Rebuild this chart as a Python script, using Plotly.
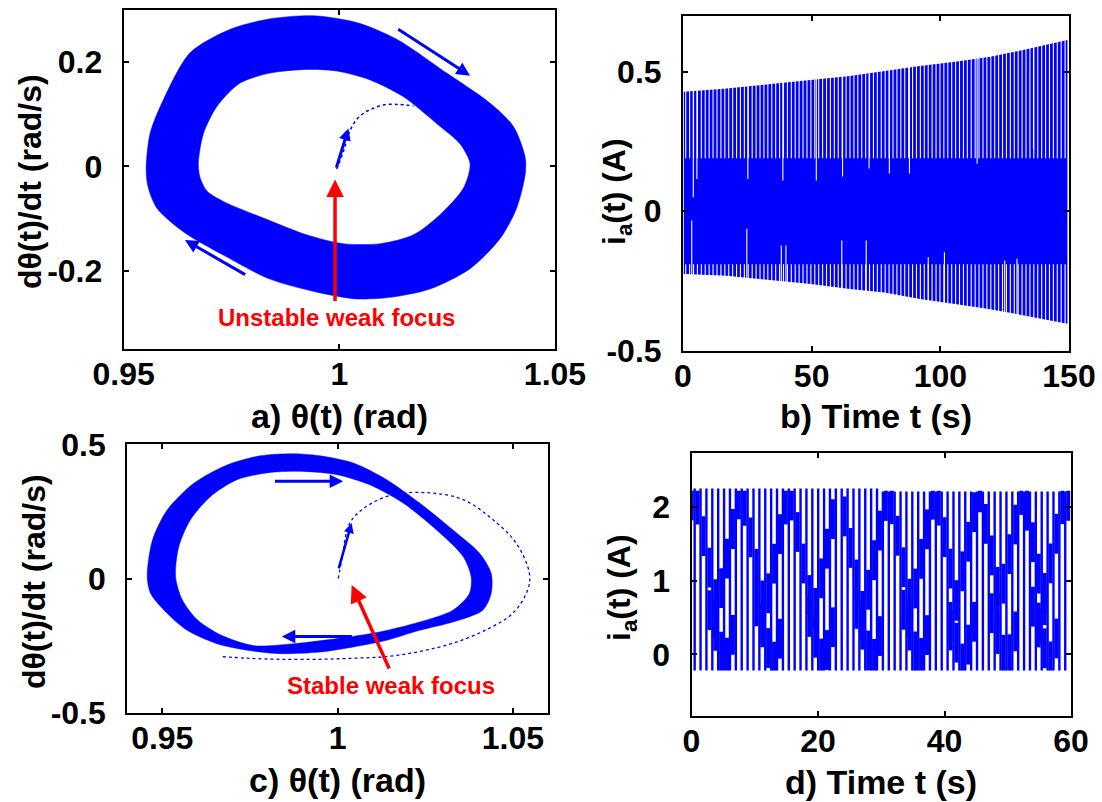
import numpy as np
import plotly.graph_objects as go

BLUE = "#0000FF"
RED = "#FF0000"

# ---------------- panel a : phase portrait, unstable weak focus ----------------
a_outer_x = [0.9552, 0.9561, 0.9592, 0.9654, 0.9747, 0.9839, 0.9940, 1.0040, 1.0133, 1.0249, 1.0350, 1.0404, 1.0431,
             1.0431, 1.0411, 1.0373, 1.0303, 1.0210, 1.0118, 1.0040, 0.9948, 0.9839, 0.9731, 0.9638, 0.9577, 0.9557]
a_outer_y = [-0.008, 0.063, 0.128, 0.218, 0.263, 0.283, 0.289, 0.276, 0.244, 0.179, 0.121, 0.076, 0.017,
             -0.015, -0.080, -0.138, -0.196, -0.235, -0.251, -0.254, -0.241, -0.216, -0.170, -0.125, -0.080, -0.041]
a_inner_x = [0.9673, 0.9685, 0.9716, 0.9770, 0.9839, 0.9924, 0.9994, 1.0071, 1.0148, 1.0226, 1.0280, 1.0303,
             1.0288, 1.0234, 1.0172, 1.0095, 1.0009, 0.9924, 0.9824, 0.9731, 0.9693, 0.9677]
a_inner_y = [0.005, 0.063, 0.115, 0.160, 0.179, 0.186, 0.183, 0.166, 0.134, 0.082, 0.043, 0.005,
             -0.041, -0.092, -0.131, -0.148, -0.148, -0.131, -0.099, -0.067, -0.047, -0.021]
a_trans_x = [0.9994, 1.0010, 1.0025, 1.0040, 1.0056, 1.0080, 1.0102, 1.0135, 1.0172]
a_trans_y = [-0.005, 0.030, 0.069, 0.090, 0.102, 0.112, 0.118, 0.119, 0.116]

# ---------------- panel b : armature current, growing oscillation ----------------
b_env_t = [0.3, 17, 36, 49.7, 64.8, 78.4, 92, 105.7, 119.4, 133, 149.4]
b_upper = [0.428, 0.440, 0.458, 0.470, 0.485, 0.503, 0.521, 0.536, 0.554, 0.580, 0.614]
b_lower = [-0.225, -0.231, -0.249, -0.261, -0.279, -0.291, -0.315, -0.333, -0.351, -0.375, -0.403]
b_period = 1.52
b_gap_top_t = [4.0, 5.4, 25.2, 38.8, 51.8, 62.0, 72.3, 80.2, 88.0, 114.3, 136.2]
b_gap_top_y = [0.05, 0.116, 0.116, 0.11, 0.11, 0.125, 0.153, 0.135, 0.135, 0.17, 0.225]
b_gap_bot_t = [3.4, 24.8, 38.2, 40.0, 61.7, 71.2, 95.3, 101.6, 125.0, 129.8]
b_gap_bot_y = [-0.033, -0.063, -0.123, -0.123, -0.105, -0.105, -0.165, -0.147, -0.177, -0.17]

# ---------------- panel c : phase portrait, stable weak focus ----------------
c_outer_x = [0.9457, 0.9472, 0.9514, 0.9590, 0.9685, 0.9779, 0.9874, 0.9950, 1.0045, 1.0140, 1.0234, 1.0329, 1.0405,
             1.0438, 1.0438, 1.0414, 1.0329, 1.0234, 1.0140, 1.0045, 0.9950, 0.9836, 0.9742, 0.9656, 0.9571, 0.9505, 0.9467]
c_outer_y = [0.006, 0.143, 0.255, 0.355, 0.423, 0.457, 0.465, 0.457, 0.430, 0.368, 0.281, 0.181, 0.094,
             0.019, -0.056, -0.118, -0.162, -0.193, -0.230, -0.255, -0.274, -0.280, -0.267, -0.243, -0.193, -0.118, -0.056]
c_inner_x = [0.9538, 0.9547, 0.9580, 0.9637, 0.9713, 0.9808, 0.9903, 0.9998, 1.0092, 1.0187, 1.0282, 1.0358,
             1.0381, 1.0376, 1.0329, 1.0234, 1.0120, 0.9998, 0.9874, 0.9760, 0.9666, 0.9600, 0.9557]
c_inner_y = [0.006, 0.118, 0.218, 0.305, 0.368, 0.395, 0.399, 0.387, 0.349, 0.281, 0.181, 0.082,
             0.006, -0.056, -0.118, -0.162, -0.199, -0.224, -0.243, -0.250, -0.210, -0.154, -0.079]
c_trans_x = [1.0002, 1.0012, 1.0035, 1.0083, 1.0158, 1.0263, 1.0358, 1.0443, 1.0509, 1.0547, 1.0542, 1.0500,
             1.0424, 1.0329, 1.0234, 1.0140, 1.0045, 0.9950, 0.9836, 0.9742, 0.9666]
c_trans_y = [0.0, 0.07, 0.207, 0.269, 0.312, 0.319, 0.294, 0.219, 0.132, 0.019, -0.043, -0.129,
             -0.191, -0.241, -0.272, -0.291, -0.297, -0.301, -0.301, -0.297, -0.291]

# ---------------- panel d : armature current, stable oscillation ----------------
d_first_t = 0.5
d_period = 0.93
d_top_early = 2.25
d_top_late = 2.21
d_bottom = -0.22
d_peak_t = [0.3, 7.7, 15.3, 23.2, 31.0, 38.4, 45.3, 52.2, 59.0]
# stroke shapes around each slow peak: (start offset, start level, end offset, end level)
d_strokes = [(-4.4, 0.30, 0.0, 2.20), (0.3, 2.20, 4.0, 0.50),
             (-5.2, 0.70, -2.4, -0.15), (-2.4, -0.15, -0.6, 0.45)]

fig = go.Figure()


def closed(xs, ys):
    return list(xs) + [xs[0]], list(ys) + [ys[0]]


def band(ox, oy, ix, iy, xa, ya):
    x1, y1 = closed(ox, oy)
    fig.add_trace(go.Scatter(x=x1, y=y1, fill="toself", fillcolor=BLUE, mode="lines",
                             line=dict(width=0.5, color=BLUE, shape="spline", smoothing=0.8), xaxis=xa, yaxis=ya))
    x2, y2 = closed(ix, iy)
    fig.add_trace(go.Scatter(x=x2, y=y2, fill="toself", fillcolor="white", mode="lines",
                             line=dict(width=0.5, color=BLUE, shape="spline", smoothing=0.8), xaxis=xa, yaxis=ya))


# panel a
band(a_outer_x, a_outer_y, a_inner_x, a_inner_y, "x", "y")
fig.add_trace(go.Scatter(x=a_trans_x, y=a_trans_y, mode="lines",
                         line=dict(color=BLUE, width=1.5, dash="dot", shape="spline"), xaxis="x", yaxis="y"))

# panel b
fig.add_trace(go.Scatter(x=b_env_t + b_env_t[::-1], y=b_upper + b_lower[::-1], fill="toself", fillcolor=BLUE,
                         mode="lines", line=dict(width=0, color=BLUE), xaxis="x2", yaxis="y2"))
gx, gy = [], []
t = 1.05
while t < 149.4:
    gx += [t, t, None, t, t, None]
    gy += [0.19, 0.75, None, -0.55, -0.19, None]
    t += b_period
for tt, yy in zip(b_gap_top_t, b_gap_top_y):
    gx += [tt, tt, None]
    gy += [yy, 0.75, None]
for tt, yy in zip(b_gap_bot_t, b_gap_bot_y):
    gx += [tt, tt, None]
    gy += [-0.55, yy, None]
fig.add_trace(go.Scatter(x=gx, y=gy, mode="lines", line=dict(color="white", width=1.1), xaxis="x2", yaxis="y2"))

# panel c
band(c_outer_x, c_outer_y, c_inner_x, c_inner_y, "x3", "y3")
fig.add_trace(go.Scatter(x=c_trans_x, y=c_trans_y, mode="lines",
                         line=dict(color=BLUE, width=1.3, dash="dot", shape="spline"), xaxis="x3", yaxis="y3"))

# panel d: one vertical stroke per fast cycle
bars = []
t = d_first_t
while t < 60:
    bars.append(t)
    t += d_period
bx, by = [], []
for t in bars:
    top = d_top_early if t < 30 else d_top_late
    bx += [t, t, None]
    by += [d_bottom, top, None]
fig.add_trace(go.Scatter(x=bx, y=by, mode="lines", line=dict(color=BLUE, width=2.4), xaxis="x4", yaxis="y4"))
# slow pattern: the gaps between the fast strokes are filled along the drifting levels
fx, fy = [], []
gaps = [b + d_period / 2 for b in bars] + [d_first_t - d_period / 2]
for p in d_peak_t:
    for (o0, y0, o1, y1) in d_strokes:
        t0, t1 = p + o0, p + o1
        for g in gaps:
            if t0 <= g <= t1 and 0 < g < 60:
                lev = y0 + (g - t0) * (y1 - y0) / (t1 - t0)
                fx += [g, g, None]
                fy += [max(lev - 0.27, d_bottom), min(lev + 0.27, 2.22), None]
fig.add_trace(go.Scatter(x=fx, y=fy, mode="lines", line=dict(color=BLUE, width=4), xaxis="x4", yaxis="y4"))

W, H = 1102, 802


def px(x):
    return x / W


def py(y):
    return 1 - y / H


tickfont = dict(family="Liberation Sans", size=32, color="black", weight="bold")
common = dict(showline=True, mirror="ticks", linecolor="black", linewidth=2, ticks="inside", ticklen=5,
              tickwidth=1.5, tickcolor="black", showgrid=False, zeroline=False, tickfont=tickfont,
              automargin=False)
xc = dict(common, ticklabelstandoff=-4)
yc = dict(common, ticklabelstandoff=13)

fig.update_layout(
    width=W, height=H, margin=dict(l=0, r=0, t=0, b=0, pad=0, autoexpand=False),
    paper_bgcolor="white", plot_bgcolor="white", showlegend=False,
    xaxis=dict(domain=[px(123.7), px(555)], range=[0.95, 1.05], tickvals=[0.95, 1, 1.05],
               ticktext=["0.95", "1", "1.05"], anchor="y", **xc),
    yaxis=dict(domain=[py(349), py(10)], range=[-0.35, 0.3], tickvals=[-0.2, 0, 0.2],
               ticktext=["-0.2", "0", "0.2"], anchor="x", **yc),
    xaxis2=dict(domain=[px(683), px(1069)], range=[0, 150], tickvals=[0, 50, 100, 150],
                ticktext=["0", "50", "100", "150"], anchor="y2", **xc),
    yaxis2=dict(domain=[py(350.7), py(16)], range=[-0.5, 0.7], tickvals=[-0.5, 0, 0.5],
                ticktext=["-0.5", "0", "0.5"], anchor="x2", **yc),
    xaxis3=dict(domain=[px(127.2), px(548)], range=[0.94, 1.06], tickvals=[0.95, 1, 1.05],
                ticktext=["0.95", "1", "1.05"], anchor="y3", **xc),
    yaxis3=dict(domain=[py(712.7), py(444.3)], range=[-0.5, 0.5], tickvals=[-0.5, 0, 0.5],
                ticktext=["-0.5", "0", "0.5"], anchor="x3", **yc),
    xaxis4=dict(domain=[px(691.5), px(1071)], range=[0, 60], tickvals=[0, 20, 40, 60],
                ticktext=["0", "20", "40", "60"], anchor="y4", **xc),
    yaxis4=dict(domain=[py(716), py(452.7)], range=[-0.837, 2.737], tickvals=[0, 1, 2],
                ticktext=["0", "1", "2"], anchor="x4", **yc),
)

tfont = dict(family="Liberation Sans", size=34, color="black", weight="bold")
yfont = dict(family="Liberation Sans", size=32, color="black", weight="bold")
ann = []
for text, x, y in [("a) θ(t) (rad)", 339, 416), ("b) Time t (s)", 876, 416),
                   ("c) θ(t) (rad)", 337.6, 780), ("d) Time t (s)", 881, 782)]:
    ann.append(dict(text=text, x=px(x), y=py(y), xref="paper", yref="paper", showarrow=False,
                    xanchor="center", yanchor="middle", font=tfont))
for text, x, y in [("dθ(t)/dt (rad/s)", 30, 182), ("i<sub>a</sub>(t) (A)", 617, 192),
                   ("dθ(t)/dt (rad/s)", 34, 582), ("i<sub>a</sub>(t) (A)", 621, 588)]:
    ann.append(dict(text=text, x=px(x), y=py(y), xref="paper", yref="paper", showarrow=False, textangle=-90,
                    xanchor="center", yanchor="middle", font=yfont))


def arrow(xr, yr, x0, y0, x1, y1, color, width=2.5, head=2, size=1.0):
    return dict(x=x1, y=y1, ax=x0, ay=y0, xref=xr, yref=yr, axref=xr, ayref=yr, showarrow=True, text="",
                arrowcolor=color, arrowwidth=width, arrowhead=head, arrowsize=size)


# panel a arrows
ann.append(arrow("x", "y", 0.9992, -0.005, 1.0021, 0.073, BLUE, 3, 2, 0.8))
ann.append(arrow("x", "y", 1.0133, 0.265, 1.0303, 0.174, BLUE, 3, 2, 0.9))
ann.append(arrow("x", "y", 0.9785, -0.209, 0.9642, -0.141, BLUE, 3, 2, 0.9))
ann.append(arrow("x", "y", 0.999, -0.261, 0.999, -0.025, RED, 3.5, 2, 1.0))
ann.append(dict(text="Unstable weak focus", x=0.9994, y=-0.29, xref="x", yref="y", showarrow=False,
                xanchor="center", yanchor="middle",
                font=dict(family="Liberation Sans", size=24, color=RED, weight="bold")))
# panel c arrows
ann.append(arrow("x3", "y3", 0.9817, 0.362, 1.0016, 0.362, BLUE, 3, 2, 0.9))
ann.append(arrow("x3", "y3", 1.0045, -0.216, 0.9841, -0.216, BLUE, 3, 2, 0.9))
ann.append(arrow("x3", "y3", 1.0002, 0.032, 1.0040, 0.207, BLUE, 2.5, 2, 0.8))
ann.append(arrow("x3", "y3", 1.0149, -0.341, 1.0040, -0.024, RED, 3.5, 2, 1.0))
ann.append(dict(text="Stable weak focus", x=1.0151, y=-0.397, xref="x3", yref="y3", showarrow=False,
                xanchor="center", yanchor="middle",
                font=dict(family="Liberation Sans", size=24, color=RED, weight="bold")))

fig.update_layout(annotations=ann)
fig.write_html("out.html")
